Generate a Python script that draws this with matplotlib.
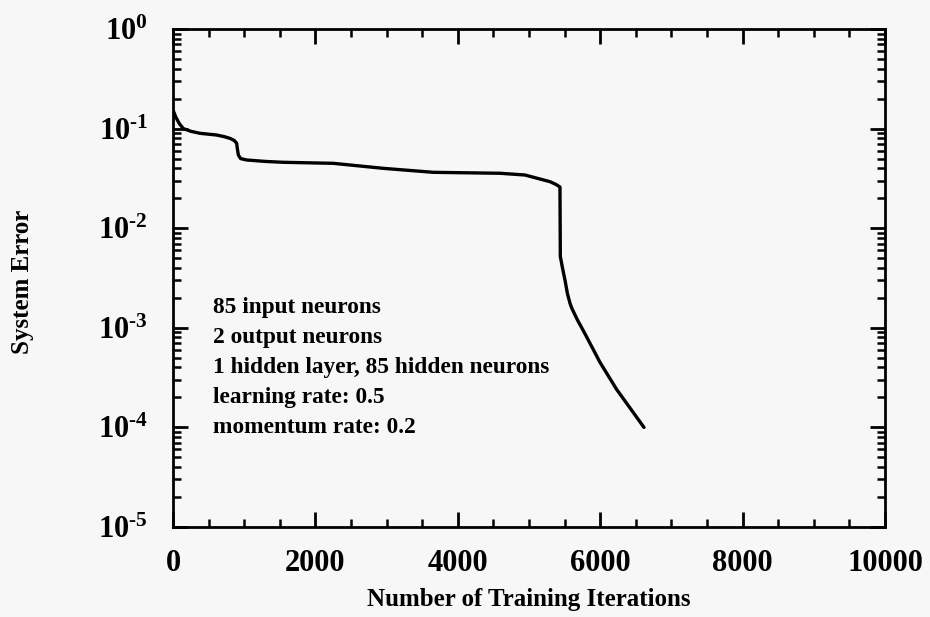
import matplotlib
matplotlib.use("Agg")
import matplotlib.pyplot as plt
from matplotlib.ticker import FixedLocator, FixedFormatter, NullFormatter
import numpy as np

plt.rcParams["font.family"] = ["Liberation Serif", "DejaVu Serif"]
plt.rcParams["font.weight"] = "bold"
plt.rcParams["axes.labelweight"] = "bold"
plt.rcParams["mathtext.fontset"] = "custom"
plt.rcParams["mathtext.rm"] = "Liberation Serif:bold"
plt.rcParams["mathtext.it"] = "Liberation Serif:bold"
plt.rcParams["mathtext.bf"] = "Liberation Serif:bold"
plt.rcParams["mathtext.default"] = "rm"

# Training curve: system error vs. iteration
iterations = [0, 40, 90, 145, 250, 379, 613, 720, 800, 860, 894, 905, 918,
              950, 1035, 1300, 1549, 2252, 2954, 3656, 3890, 4593, 4944,
              5295, 5380, 5435, 5440, 5470, 5506, 5540, 5576, 5600, 5680,
              5758, 5880, 5997, 6232, 6615]
system_error = [0.154, 0.130, 0.112, 0.100, 0.094, 0.0897, 0.0862, 0.083,
                0.0798, 0.076, 0.0712, 0.062, 0.0543, 0.050, 0.0484, 0.0468,
                0.0459, 0.0448, 0.0399, 0.0364, 0.0362, 0.0356, 0.0342,
                0.0293, 0.0275, 0.0259, 0.0052, 0.0040, 0.0030, 0.0022,
                0.00176, 0.00158, 0.0012, 0.00095, 0.00065, 0.00045,
                0.00024, 0.0001]

x_ticks = [0, 2000, 4000, 6000, 8000, 10000]
y_ticks = [1e0, 1e-1, 1e-2, 1e-3, 1e-4, 1e-5]
HY = "\u2010"
y_tick_labels = [r"$10^{0}$", rf"$10^{{{HY}1}}$", rf"$10^{{{HY}2}}$",
                 rf"$10^{{{HY}3}}$", rf"$10^{{{HY}4}}$", rf"$10^{{{HY}5}}$"]

network_info = [
    "85 input neurons",
    "2 output neurons",
    "1 hidden layer, 85 hidden neurons",
    "learning rate: 0.5",
    "momentum rate: 0.2",
]

bg = "#f7f7f7"
fig = plt.figure(figsize=(9.3, 6.17), dpi=100, facecolor=bg)
ax = fig.add_axes([173 / 930, 1 - 527 / 617, (885 - 173) / 930, (527 - 29) / 617])
ax.set_facecolor(bg)

ax.semilogy(iterations, system_error, color="black", lw=2.4,
            solid_joinstyle="round", solid_capstyle="round")

ax.set_xlim(0, 10000)
ax.set_ylim(1e-5, 1e0)

ax.xaxis.set_major_locator(FixedLocator(x_ticks))
ax.xaxis.set_minor_locator(FixedLocator(np.arange(0, 10001, 500)))
ax.set_xticklabels([str(v) for v in x_ticks])

ax.yaxis.set_major_locator(FixedLocator(y_ticks))
ax.yaxis.set_major_formatter(FixedFormatter(y_tick_labels))
minor_y = [m * 10.0 ** e for e in range(-5, 0) for m in range(2, 10)]
ax.yaxis.set_minor_locator(FixedLocator(minor_y))
ax.yaxis.set_minor_formatter(NullFormatter())

for s in ax.spines.values():
    s.set_linewidth(2.0)

ax.tick_params(which="both", direction="in", top=True, right=True,
               color="black")
ax.tick_params(which="major", length=11, width=2.0, labelsize=22)
ax.tick_params(which="minor", length=6, width=1.8)
ax.tick_params(axis="x", which="major", pad=16)
ax.tick_params(axis="y", which="major", pad=18)

ax.set_xlabel("Number of Training Iterations", fontsize=18, labelpad=7)
fig.text(22 / 930, 1 - 282 / 617, "System Error", rotation=90, fontsize=18,
         ha="center", va="center")

for i, line in enumerate(network_info):
    fig.text(213 / 930, 1 - (307 + 30.2 * i) / 617, line, fontsize=16.8,
             ha="left", va="center")

fig.savefig("out.png", dpi=100, facecolor=bg)
